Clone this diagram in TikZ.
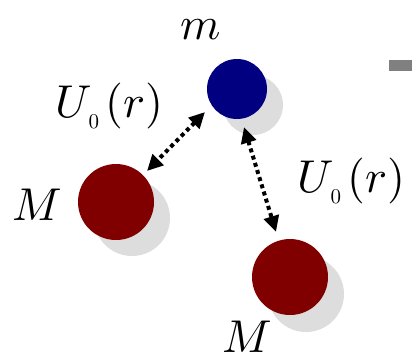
\documentclass[tikz,border=0pt]{standalone}
\usepackage{graphicx}
\usetikzlibrary{arrows.meta}
\definecolor{navyb}{HTML}{000080}
\definecolor{darkr}{HTML}{800000}
\definecolor{shade}{HTML}{DDDDDD}
\definecolor{grayr}{HTML}{808080}
\newcommand{\bigit}[1]{\scalebox{4.6}{$#1$}}
\newcommand{\Uzr}{\bigit{U}\kern-3pt\raisebox{-11pt}{\scalebox{2.1}{$0$}}\kern6pt\bigit{(r)}}
\begin{document}
\begin{tikzpicture}[x=1pt,y=-1pt,
  ball/.style={circle,inner sep=0pt,minimum size=#1,draw=none},
  lbl/.style={inner sep=0pt,anchor=base west},
  pot/.style={line width=4pt,dash pattern=on 4pt off 3.5pt,
    {Triangle[length=16pt,width=15pt]}-{Triangle[length=16pt,width=15pt]}}]
\useasboundingbox (0,0) rectangle (412,362);
% gray bar
\fill[grayr] (389,60) rectangle (412,71);
% shadows
\node[ball=60pt,fill=shade] (sm) at (253,105) {};
\node[ball=76pt,fill=shade] (sM1) at (132,218) {};
\node[ball=76pt,fill=shade] (sM2) at (306,294) {};
% balls
\node[ball=60pt,fill=navyb] (m) at (237,89) {};
\node[ball=76pt,fill=darkr] (M1) at (116,202) {};
\node[ball=76pt,fill=darkr] (M2) at (290,277) {};
% arrow ends
\coordinate (a1) at (205,112);
\coordinate (b1) at (147,171);
\coordinate (a2) at (244,127);
\coordinate (b2) at (276,232);
\draw[pot] (a1) -- (b1);
\draw[pot] (a2) -- (b2);
% labels
\node[lbl] (tm) at (180,39) {\bigit{m}};
\node[lbl] (tU1) at (55,117) {\Uzr};
\node[lbl] (tU2) at (297,192) {\Uzr};
\node[lbl] (tM1) at (12,220) {\bigit{M}};
\node[lbl] (tM2) at (222,352) {\bigit{M}};
\end{tikzpicture}
\end{document}
